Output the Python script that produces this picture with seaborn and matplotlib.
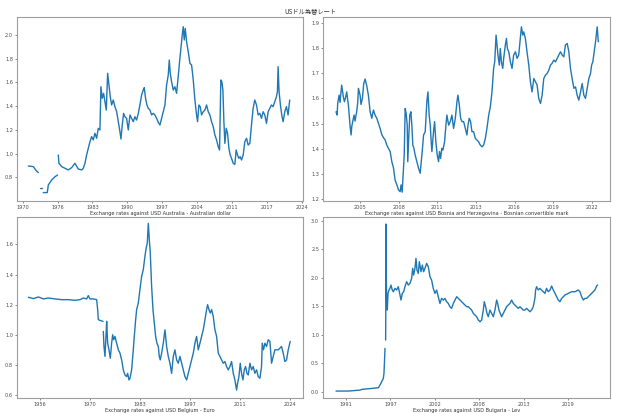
import numpy as np
import pandas as pd
import matplotlib
matplotlib.use("Agg")
import matplotlib.pyplot as plt
import seaborn as sns

nan = np.nan

# ---------------- data ----------------
title = "USドル為替レート"
labels = [
    "Exchange rates against USD Australia - Australian dollar",
    "Exchange rates against USD Bosnia and Herzegovina - Bosnian convertible mark",
    "Exchange rates against USD Belgium - Euro",
    "Exchange rates against USD Bulgaria - Lev",
]

au_year = [1971.09, 1972.06, 1972.51, 1973.02, 1973.2, 1973.35, 1973.80, 1973.9, 1973.99, 1974.76,
           1974.96, 1975.60, 1976.25, 1976.76, 1976.83, 1976.89, 1977.02, 1977.54, 1978.18, 1978.83,
           1979.47, 1980.12, 1980.76, 1981.41, 1981.73, 1982.05, 1982.37, 1982.70, 1983.02, 1983.34,
           1983.66, 1983.98, 1984.31, 1984.63, 1984.95, 1985.14, 1985.40, 1985.66, 1985.92, 1986.18,
           1986.44, 1986.69, 1986.95, 1987.21, 1987.53, 1987.85, 1988.18, 1988.50, 1988.82, 1989.02,
           1989.27, 1989.53, 1989.79, 1990.11, 1990.44, 1990.76, 1991.08, 1991.40, 1991.72, 1992.04,
           1992.37, 1992.69, 1993.01, 1993.33, 1993.53, 1993.78, 1994.04, 1994.30, 1994.62, 1994.95,
           1995.27, 1995.59, 1995.91, 1996.24, 1996.56, 1996.88, 1997.20, 1997.53, 1997.85, 1998.17,
           1998.37, 1998.56, 1998.82, 1999.14, 1999.46, 1999.78, 2000.10, 2000.36, 2000.62, 2000.88,
           2001.07, 2001.27, 2001.46, 2001.72, 2002.04, 2002.37, 2002.69, 2003.01, 2003.33, 2003.65,
           2003.85, 2004.10, 2004.36, 2004.62, 2004.94, 2005.27, 2005.59, 2005.91, 2006.23, 2006.55,
           2006.88, 2007.20, 2007.52, 2007.84, 2008.10, 2008.35, 2008.55, 2008.75, 2008.94, 2009.13,
           2009.39, 2009.65, 2009.91, 2010.16, 2010.42, 2010.74, 2011.06, 2011.32, 2011.58, 2011.83,
           2012.09, 2012.35, 2012.67, 2012.99, 2013.32, 2013.64, 2013.96, 2014.28, 2014.60, 2014.92,
           2015.25, 2015.57, 2015.89, 2016.21, 2016.53, 2016.85, 2017.18, 2017.50, 2017.82, 2018.14,
           2018.46, 2018.79, 2019.11, 2019.30, 2019.43, 2019.62, 2019.88, 2020.14, 2020.40, 2020.72,
           2021.04, 2021.36, 2021.68]
au_rate = [0.895, 0.890, 0.862, 0.839, nan, 0.707, 0.707, nan, 0.671, 0.671,
           0.735, 0.777, 0.805, 0.819, nan, 0.988, 0.918, 0.890, 0.876, 0.862,
           0.881, 0.918, 0.870, 0.862, 0.876, 0.918, 0.988, 1.044, 1.100, 1.143,
           1.115, 1.171, 1.129, 1.213, 1.199, 1.564, 1.466, 1.508, 1.438, 1.367,
           1.677, 1.578, 1.480, 1.410, 1.452, 1.396, 1.354, 1.269, 1.185, 1.123,
           1.241, 1.339, 1.311, 1.297, 1.199, 1.326, 1.297, 1.269, 1.311, 1.283,
           1.339, 1.410, 1.494, 1.536, 1.556, 1.466, 1.410, 1.382, 1.368, 1.326,
           1.339, 1.326, 1.297, 1.264, 1.241, 1.297, 1.353, 1.410, 1.578, 1.662,
           1.789, 1.677, 1.606, 1.536, 1.564, 1.508, 1.649, 1.775, 1.888, 2.000,
           2.070, 1.958, 2.056, 1.944, 1.859, 1.761, 1.747, 1.621, 1.452, 1.326,
           1.269, 1.410, 1.396, 1.326, 1.353, 1.368, 1.410, 1.353, 1.326, 1.269,
           1.227, 1.157, 1.115, 1.058, 1.030, 1.621, 1.606, 1.536, 1.269, 1.086,
           1.213, 1.171, 1.044, 0.988, 0.960, 0.918, 0.909, 1.030, 0.988, 0.960,
           0.974, 0.946, 0.988, 1.100, 1.129, 1.072, 1.086, 1.241, 1.382, 1.452,
           1.410, 1.326, 1.339, 1.297, 1.353, 1.326, 1.255, 1.353, 1.382, 1.410,
           1.396, 1.438, 1.480, 1.522, 1.733, 1.522, 1.410, 1.326, 1.269, 1.353,
           1.396, 1.326, 1.452]

ba_year = [2003.24, 2003.31, 2003.36, 2003.46, 2003.53, 2003.60, 2003.65, 2003.77, 2003.85, 2003.95,
           2004.02, 2004.09, 2004.14, 2004.26, 2004.34, 2004.39, 2004.46, 2004.56, 2004.63, 2004.75,
           2004.83, 2004.88, 2005.00, 2005.07, 2005.17, 2005.27, 2005.37, 2005.49, 2005.61, 2005.74,
           2005.86, 2005.98, 2006.10, 2006.23, 2006.35, 2006.47, 2006.59, 2006.72, 2006.84, 2006.96,
           2007.08, 2007.21, 2007.33, 2007.45, 2007.57, 2007.70, 2007.82, 2007.94, 2008.01, 2008.09,
           2008.16, 2008.24, 2008.31, 2008.38, 2008.46, 2008.50, 2008.58, 2008.65, 2008.73, 2008.80,
           2008.87, 2008.95, 2009.04, 2009.17, 2009.29, 2009.41, 2009.49, 2009.58, 2009.66, 2009.78,
           2009.90, 2009.98, 2010.07, 2010.15, 2010.22, 2010.27, 2010.39, 2010.47, 2010.56, 2010.66,
           2010.76, 2010.83, 2010.91, 2011.00, 2011.08, 2011.20, 2011.30, 2011.37, 2011.50, 2011.62,
           2011.74, 2011.86, 2011.99, 2012.11, 2012.18, 2012.28, 2012.38, 2012.48, 2012.60, 2012.72,
           2012.84, 2012.92, 2013.01, 2013.11, 2013.21, 2013.33, 2013.46, 2013.58, 2013.70, 2013.82,
           2013.95, 2014.07, 2014.19, 2014.31, 2014.44, 2014.56, 2014.68, 2014.80, 2014.88, 2014.98,
           2015.05, 2015.12, 2015.22, 2015.29, 2015.37, 2015.47, 2015.54, 2015.66, 2015.74, 2015.81,
           2015.91, 2016.03, 2016.15, 2016.27, 2016.40, 2016.52, 2016.64, 2016.76, 2016.84, 2016.94,
           2017.01, 2017.13, 2017.25, 2017.38, 2017.50, 2017.62, 2017.75, 2017.87, 2017.99, 2018.11,
           2018.24, 2018.36, 2018.48, 2018.60, 2018.73, 2018.85, 2018.97, 2019.09, 2019.22, 2019.34,
           2019.46, 2019.58, 2019.71, 2019.83, 2019.95, 2020.07, 2020.20, 2020.32, 2020.44, 2020.56,
           2020.69, 2020.81, 2020.93, 2021.05, 2021.18, 2021.30, 2021.42, 2021.54, 2021.67, 2021.79,
           2021.91, 2021.99, 2022.08, 2022.18, 2022.28, 2022.40, 2022.48]
ba_rate = [1.547, 1.534, 1.580, 1.613, 1.584, 1.626, 1.653, 1.607, 1.587, 1.607,
           1.626, 1.594, 1.576, 1.494, 1.455, 1.488, 1.508, 1.534, 1.510, 1.547,
           1.584, 1.640, 1.613, 1.576, 1.600, 1.659, 1.677, 1.650, 1.613, 1.547,
           1.521, 1.554, 1.534, 1.521, 1.501, 1.481, 1.457, 1.444, 1.435, 1.415,
           1.402, 1.389, 1.349, 1.325, 1.276, 1.257, 1.237, 1.230, 1.257, 1.228,
           1.296, 1.376, 1.560, 1.541, 1.494, 1.349, 1.455, 1.534, 1.547, 1.494,
           1.415, 1.402, 1.376, 1.349, 1.323, 1.303, 1.349, 1.402, 1.455, 1.468,
           1.587, 1.626, 1.534, 1.494, 1.428, 1.389, 1.468, 1.508, 1.428, 1.376,
           1.349, 1.389, 1.362, 1.402, 1.395, 1.428, 1.494, 1.534, 1.494, 1.508,
           1.534, 1.481, 1.521, 1.587, 1.613, 1.574, 1.521, 1.508, 1.508, 1.481,
           1.455, 1.494, 1.521, 1.508, 1.468, 1.468, 1.441, 1.435, 1.428, 1.415,
           1.408, 1.415, 1.441, 1.481, 1.534, 1.567, 1.626, 1.719, 1.745, 1.851,
           1.812, 1.772, 1.732, 1.798, 1.745, 1.719, 1.759, 1.812, 1.838, 1.798,
           1.785, 1.745, 1.719, 1.772, 1.785, 1.759, 1.772, 1.838, 1.884, 1.851,
           1.864, 1.838, 1.785, 1.732, 1.666, 1.626, 1.679, 1.666, 1.653, 1.600,
           1.580, 1.613, 1.679, 1.692, 1.699, 1.712, 1.732, 1.739, 1.752, 1.745,
           1.759, 1.772, 1.785, 1.772, 1.765, 1.812, 1.818, 1.785, 1.719, 1.679,
           1.640, 1.646, 1.613, 1.593, 1.626, 1.659, 1.613, 1.600, 1.640, 1.679,
           1.699, 1.732, 1.745, 1.785, 1.825, 1.884, 1.825]

be_year = [1952.83, 1954.19, 1955.55, 1956.91, 1958.26, 1960.08, 1961.89, 1963.70, 1965.51, 1966.87,
           1967.78, 1968.68, 1969.13, 1969.59, 1970.49, 1971.40, 1971.67, 1971.85, 1972.58, 1973.12,
           1973.16, 1973.21, 1973.39, 1973.66, 1973.93, 1974.12, 1974.39, 1974.75, 1975.11, 1975.47,
           1975.75, 1976.02, 1976.38, 1976.83, 1977.29, 1977.74, 1978.19, 1978.64, 1979.10, 1979.55,
           1979.82, 1980.18, 1980.46, 1980.91, 1981.36, 1981.63, 1982.00, 1982.27, 1982.72, 1983.17,
           1983.63, 1984.08, 1984.53, 1984.80, 1985.17, 1985.44, 1985.71, 1985.98, 1986.34, 1986.71,
           1987.07, 1987.43, 1987.79, 1988.16, 1988.43, 1988.70, 1989.06, 1989.51, 1989.97, 1990.42,
           1990.87, 1991.33, 1991.78, 1992.23, 1992.68, 1993.14, 1993.59, 1994.04, 1994.50, 1994.95,
           1995.40, 1995.86, 1996.31, 1996.76, 1997.21, 1997.67, 1998.12, 1998.57, 1999.03, 1999.48,
           1999.93, 2000.38, 2000.84, 2001.29, 2001.56, 2001.92, 2002.29, 2002.65, 2003.10, 2003.55,
           2004.01, 2004.46, 2004.91, 2005.37, 2005.82, 2006.27, 2006.72, 2007.18, 2007.63, 2008.08,
           2008.54, 2008.99, 2009.44, 2009.71, 2010.08, 2010.44, 2010.80, 2011.16, 2011.53, 2011.89,
           2012.25, 2012.61, 2013.07, 2013.52, 2013.97, 2014.42, 2014.88, 2015.33, 2015.78, 2016.23,
           2016.42, 2016.78, 2017.14, 2017.59, 2018.05, 2018.50, 2018.95, 2019.40, 2019.86, 2020.76,
           2021.67, 2022.12, 2022.58, 2023.03, 2023.48, 2024.03]
be_rate = [1.249, 1.240, 1.251, 1.238, 1.244, 1.238, 1.233, 1.233, 1.229, 1.233,
           1.244, 1.238, 1.260, 1.238, 1.238, 1.233, 1.167, 1.100, 1.093, 1.089,
           nan, 1.022, 0.922, 0.856, 0.989, 1.089, 0.944, 0.900, 0.844, 0.944,
           1.000, 0.967, 0.989, 0.944, 0.900, 0.878, 0.833, 0.767, 0.733, 0.722,
           0.744, 0.700, 0.711, 0.767, 0.900, 0.989, 1.100, 1.167, 1.211, 1.300,
           1.389, 1.433, 1.522, 1.567, 1.611, 1.740, 1.633, 1.544, 1.322, 1.167,
           1.078, 0.989, 0.944, 0.922, 0.856, 0.833, 0.878, 0.944, 1.033, 0.922,
           0.856, 0.811, 0.744, 0.856, 0.900, 0.833, 0.811, 0.856, 0.811, 0.767,
           0.722, 0.700, 0.744, 0.789, 0.833, 0.878, 0.944, 0.989, 0.900, 0.944,
           0.989, 1.033, 1.100, 1.167, 1.200, 1.167, 1.144, 1.167, 1.122, 1.033,
           0.989, 0.878, 0.856, 0.833, 0.811, 0.822, 0.789, 0.767, 0.789, 0.822,
           0.744, 0.700, 0.633, 0.678, 0.722, 0.811, 0.744, 0.700, 0.767, 0.789,
           0.744, 0.733, 0.811, 0.767, 0.789, 0.744, 0.767, 0.722, 0.711, 0.789,
           0.944, 0.900, 0.944, 0.922, 0.967, 0.956, 0.811, 0.856, 0.900, 0.900,
           0.922, 0.878, 0.822, 0.833, 0.900, 0.956]

bg_year = [1989.74, 1991.29, 1992.77, 1992.98, 1995.08, 1995.29, 1995.50, 1995.71, 1995.79, 1995.88,
           1995.92, 1995.96, 1996.00, 1996.02, 1996.04, 1996.09, 1996.13, 1996.21, 1996.30, 1996.42,
           1996.55, 1996.67, 1996.84, 1996.97, 1997.18, 1997.39, 1997.60, 1997.81, 1997.94, 1998.10,
           1998.27, 1998.44, 1998.65, 1998.86, 1999.07, 1999.28, 1999.41, 1999.53, 1999.70, 1999.83,
           1999.95, 2000.12, 2000.25, 2000.46, 2000.63, 2000.79, 2000.96, 2001.17, 2001.38, 2001.59,
           2001.80, 2002.01, 2002.22, 2002.43, 2002.64, 2002.85, 2003.06, 2003.27, 2003.48, 2003.69,
           2003.90, 2004.11, 2004.32, 2004.54, 2004.75, 2004.96, 2005.17, 2005.38, 2005.59, 2005.80,
           2006.01, 2006.22, 2006.43, 2006.64, 2006.85, 2007.06, 2007.27, 2007.48, 2007.69, 2007.90,
           2008.11, 2008.32, 2008.44, 2008.61, 2008.78, 2008.95, 2009.16, 2009.37, 2009.58, 2009.79,
           2010.00, 2010.13, 2010.29, 2010.46, 2010.63, 2010.84, 2011.05, 2011.26, 2011.47, 2011.68,
           2011.89, 2012.10, 2012.31, 2012.52, 2012.73, 2012.94, 2013.15, 2013.36, 2013.57, 2013.78,
           2013.99, 2014.20, 2014.41, 2014.62, 2014.83, 2014.92, 2015.04, 2015.25, 2015.46, 2015.67,
           2015.88, 2016.09, 2016.30, 2016.51, 2016.73, 2016.94, 2017.15, 2017.36, 2017.57, 2017.78,
           2017.99, 2018.20, 2018.41, 2018.62, 2019.04, 2019.46, 2019.88, 2020.30, 2020.51, 2020.72,
           2020.93, 2021.14, 2021.35, 2021.56, 2021.77, 2021.98, 2022.19, 2022.40, 2022.61, 2022.74]
bg_rate = [0.012, 0.012, 0.029, 0.041, 0.070, 0.117, 0.176, 0.234, 0.322, 0.615,
           0.762, nan, 0.908, 1.435, 2.947, 2.021, 1.552, 1.435, 1.728, 1.787,
           1.816, 1.875, 1.787, 1.757, 1.816, 1.787, 1.845, 1.699, 1.611, 1.728,
           1.757, 1.845, 1.933, 1.875, 1.904, 1.992, 2.168, 2.050, 2.168, 2.343,
           2.138, 2.080, 2.285, 2.109, 2.226, 2.109, 2.168, 2.255, 2.197, 2.021,
           1.962, 1.816, 1.728, 1.787, 1.670, 1.552, 1.640, 1.611, 1.640, 1.582,
           1.552, 1.494, 1.465, 1.552, 1.611, 1.670, 1.640, 1.611, 1.582, 1.552,
           1.523, 1.494, 1.494, 1.465, 1.435, 1.377, 1.347, 1.318, 1.260, 1.230,
           1.260, 1.435, 1.582, 1.494, 1.377, 1.318, 1.435, 1.377, 1.318, 1.435,
           1.611, 1.552, 1.435, 1.377, 1.318, 1.377, 1.435, 1.494, 1.523, 1.552,
           1.611, 1.552, 1.523, 1.494, 1.465, 1.494, 1.465, 1.435, 1.435, 1.465,
           1.435, 1.406, 1.435, 1.494, 1.640, 1.787, 1.845, 1.787, 1.816, 1.787,
           1.757, 1.728, 1.816, 1.757, 1.787, 1.857, 1.787, 1.728, 1.670, 1.611,
           1.582, 1.640, 1.670, 1.699, 1.728, 1.757, 1.757, 1.787, 1.757, 1.670,
           1.611, 1.640, 1.640, 1.670, 1.699, 1.728, 1.757, 1.787, 1.857, 1.875]

au_xticklabels = ["1970", "1976", "1983", "1990", "1997", "2004", "2011", "2017", "2024"]
ba_xticklabels = ["2005", "2008", "2011", "2013", "2016", "2019", "2022"]
be_xticklabels = ["1956", "1970", "1983", "1997", "2011", "2024"]
bg_xticklabels = ["1991", "1997", "2002", "2008", "2013", "2019"]

# ---------------- style ----------------
sns.set_style("ticks", {"axes.edgecolor": "0.62", "xtick.color": "0.35", "ytick.color": "0.35"})
plt.rcParams["font.family"] = ["DejaVu Sans"]

W, H = 620, 413
fig = plt.figure(figsize=(W / 100, H / 100), dpi=100)

def px_rect(l, t, r, b):
    return [l / W, 1 - b / H, (r - l) / W, (b - t) / H]

panels = [
    (au_year, au_rate, labels[0], px_rect(17, 17, 303, 201),
     (1968.9, 2024.25), np.linspace(1970, 2024, 9), au_xticklabels, (0.60, 2.152), np.arange(0.8, 2.01, 0.2)),
    (ba_year, ba_rate, labels[1], px_rect(323, 17, 610, 201),
     (2002.28, 2023.34), np.linspace(2005, 2022, 7), ba_xticklabels, (1.193, 1.923), np.arange(1.2, 1.91, 0.1)),
    (be_year, be_rate, labels[2], px_rect(17, 217, 303, 398),
     (1949.74, 2027.5), np.linspace(1956, 2024, 6), be_xticklabels, (0.58, 1.782), np.arange(0.6, 1.61, 0.2)),
    (bg_year, bg_rate, labels[3], px_rect(323, 217, 610, 398),
     (1988.1, 2024.3), np.linspace(1991, 2019, 6), bg_xticklabels, (-0.11, 3.07), np.arange(0.0, 3.01, 0.5)),
]

for yrs, rates, lab, rect, xl, xt, xtl, yl, yt in panels:
    ax = fig.add_axes(rect)
    r = np.asarray(rates, dtype=float)
    df = pd.DataFrame({"year": yrs, "rate": r, "seg": np.cumsum(np.isnan(r))})
    df = df.dropna()
    sns.lineplot(data=df, x="year", y="rate", units="seg", estimator=None,
                 color="#1f77b4", linewidth=1.0, ax=ax, sort=False)
    ax.set_xlim(*xl)
    ax.set_ylim(*yl)
    ax.set_xticks(xt)
    ax.set_xticklabels(xtl)
    ax.set_yticks(yt)
    ax.set_yticklabels([f"{v:.1f}" for v in yt])
    ax.tick_params(labelsize=3.6, length=1.6, width=0.5, pad=1.2, labelcolor="0.3")
    ax.set_xlabel(lab, fontsize=3.6, labelpad=0.8, color="0.2")
    ax.set_ylabel("")
    for s in ax.spines.values():
        s.set_visible(True)
        s.set_linewidth(0.8)

fig.suptitle(title, y=0.982, fontsize=4.5, family=["Noto Sans CJK JP", "DejaVu Sans"], color="0.2")

fig.savefig("out.png", dpi=100)
